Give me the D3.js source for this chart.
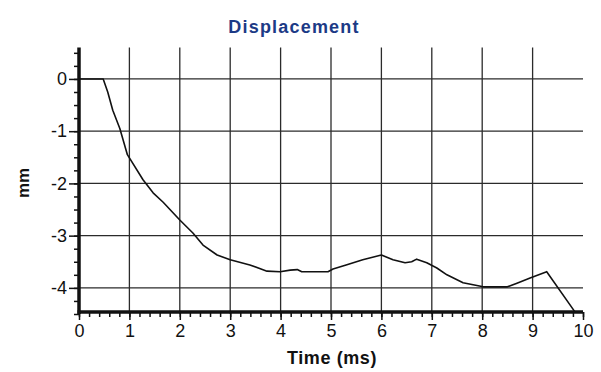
<!DOCTYPE html>
<html>
<head>
<meta charset="utf-8">
<script src="https://cdn.jsdelivr.net/npm/d3@7"></script>
<style>
  body { margin: 0; background: #fff; }
  text { font-family: "Liberation Sans", Arial, sans-serif; }
</style>
</head>
<body>
<div id="chart"></div>
<script>
// Displacement trace
const timeMs = [0, 0.48, 0.57, 0.67, 0.81, 0.96, 1.27, 1.47, 1.67, 2.0, 2.26, 2.46, 2.74, 3.0, 3.39, 3.73,
  3.99, 4.19, 4.33, 4.42, 4.94, 5.04, 5.3, 5.63, 6.0, 6.23, 6.47, 6.6, 6.7, 6.9, 7.1, 7.3,
  7.62, 8.02, 8.5, 8.69, 8.95, 9.28, 9.84];
const dispMm = [0, 0, -0.25, -0.6, -0.95, -1.45, -1.93, -2.18, -2.36, -2.7, -2.95, -3.18, -3.37, -3.46, -3.56, -3.68,
  -3.69, -3.66, -3.65, -3.69, -3.69, -3.64, -3.56, -3.46, -3.37, -3.46, -3.52, -3.5, -3.45, -3.52, -3.62, -3.75,
  -3.9, -3.98, -3.98, -3.91, -3.81, -3.69, -4.46];

const xTicks = [0, 1, 2, 3, 4, 5, 6, 7, 8, 9, 10];
const yTicks = [0, -1, -2, -3, -4];

const W = 601, H = 372;
const svg = d3.select("#chart").append("svg")
  .attr("width", W)
  .attr("height", H);

const x = d3.scaleLinear().domain([0, 10]).range([79, 583]);
const y = d3.scaleLinear().domain([-4.5, 0.6]).range([314, 47.6]);

const gridColor = "#2b2b2b";
const hyphen = d => String(d); // plain hyphen minus, like the original

// vertical grid lines
svg.append("g")
  .selectAll("line")
  .data(xTicks.filter(d => d > 0 && d < 10))
  .enter().append("line")
  .attr("x1", d => x(d)).attr("x2", d => x(d))
  .attr("y1", y(0.6)).attr("y2", y(-4.5))
  .attr("stroke", gridColor)
  .attr("stroke-width", 1.3);

// horizontal grid lines
svg.append("g")
  .selectAll("line")
  .data(yTicks)
  .enter().append("line")
  .attr("x1", x(0)).attr("x2", x(10))
  .attr("y1", d => y(d)).attr("y2", d => y(d))
  .attr("stroke", gridColor)
  .attr("stroke-width", 1.3);

// y axis: minor ticks every 0.25, labels on whole numbers
svg.append("g").attr("transform", `translate(${x(0)},0)`)
  .call(d3.axisLeft(y).tickValues(d3.range(-4.5, 0.6, 0.25)).tickSize(5).tickFormat(""))
  .call(g => g.select(".domain").remove())
  .call(g => g.selectAll(".tick line").attr("stroke", "#111").attr("stroke-width", 1.5));
svg.append("g").attr("transform", `translate(${x(0)},0)`)
  .call(d3.axisLeft(y).tickValues(yTicks).tickSize(10).tickPadding(2).tickFormat(hyphen))
  .call(g => g.select(".domain").remove())
  .call(g => g.selectAll(".tick line").attr("stroke", "#111").attr("stroke-width", 1.5))
  .call(g => g.selectAll("text").attr("fill", "#111").style("font-size", "18px"));

// x axis: minor ticks every 0.2
svg.append("g").attr("transform", `translate(0,${y(-4.5) - 2})`)
  .call(d3.axisBottom(x).tickValues(d3.range(0, 10.01, 0.2)).tickSize(5).tickFormat(""))
  .call(g => g.select(".domain").remove())
  .call(g => g.selectAll(".tick line").attr("stroke", "#111").attr("stroke-width", 1.5));
svg.append("g").attr("transform", `translate(0,${y(-4.5) - 2})`)
  .call(d3.axisBottom(x).tickValues(xTicks).tickSize(8).tickPadding(4).tickFormat(hyphen))
  .call(g => g.select(".domain").remove())
  .call(g => g.selectAll(".tick line").attr("stroke", "#111").attr("stroke-width", 1.5))
  .call(g => g.selectAll("text").attr("fill", "#111").style("font-size", "18px"));

// thick axis lines
svg.append("line")
  .attr("x1", x(0)).attr("x2", x(0))
  .attr("y1", y(0.6)).attr("y2", y(-4.5))
  .attr("stroke", "#111").attr("stroke-width", 3.5);
svg.append("line")
  .attr("x1", x(0) - 1.5).attr("x2", x(10))
  .attr("y1", y(-4.5) - 2).attr("y2", y(-4.5) - 2)
  .attr("stroke", "#111").attr("stroke-width", 3.5);

// the trace
const line = d3.line()
  .x((d, i) => x(timeMs[i]))
  .y(d => y(d));
svg.append("path")
  .datum(dispMm)
  .attr("fill", "none")
  .attr("stroke", "#111")
  .attr("stroke-width", 1.6)
  .attr("stroke-linejoin", "round")
  .attr("d", line);

// titles
svg.append("text")
  .attr("x", 294).attr("y", 33)
  .attr("text-anchor", "middle")
  .attr("fill", "#1c3a86")
  .style("font-size", "18px")
  .style("font-weight", "bold")
  .style("letter-spacing", "1.2px")
  .text("Displacement");

svg.append("text")
  .attr("x", 332).attr("y", 364)
  .attr("text-anchor", "middle")
  .attr("fill", "#111")
  .style("font-size", "18px")
  .style("font-weight", "bold")
  .style("letter-spacing", "0.6px")
  .text("Time (ms)");

svg.append("text")
  .attr("transform", "translate(29,183) rotate(-90)")
  .attr("text-anchor", "middle")
  .attr("fill", "#111")
  .style("font-size", "17px")
  .style("font-weight", "bold")
  .text("mm");
</script>
</body>
</html>
